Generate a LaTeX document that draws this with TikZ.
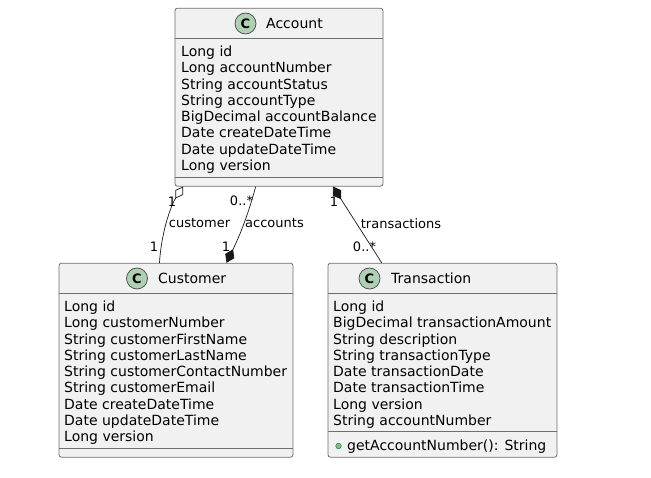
\documentclass[tikz,border=0pt]{standalone}
\usepackage{fontspec}
\setmainfont{DejaVu Sans}
\usetikzlibrary{arrows.meta,calc}

\definecolor{boxFill}{HTML}{F1F1F1}
\definecolor{boxLine}{HTML}{6E6E6E}
\definecolor{linkLine}{HTML}{181818}
\definecolor{markFill}{HTML}{ADD1B2}
\definecolor{dotFill}{HTML}{84BE84}
\definecolor{dotLine}{HTML}{038048}

\newcommand{\headOff}{31}
\newcommand{\acctFoot}{170}
\newcommand{\custFoot}{186}
\newcommand{\tranFoot}{169}

\tikzset{
  classbox/.style={draw=boxLine, fill=boxFill, line width=0.8pt, rounded corners=2.5pt, inner sep=0pt, anchor=north west},
  divline/.style={draw=boxLine, line width=0.8pt},
  classmark/.style={circle, draw=linkLine!80, fill=markFill, line width=0.7pt, minimum size=21pt, inner sep=0pt, font=\fontsize{13}{14}\selectfont\bfseries},
  classname/.style={inner sep=0pt, anchor=base west, font=\fontsize{14}{16}\selectfont},
  members/.style={inner sep=0pt, anchor=north west, align=left, font=\fontsize{14}{16.3}\selectfont},
  assoc/.style={draw=linkLine, line width=0.7pt},
  mult/.style={inner sep=0pt, font=\fontsize{13}{15}\selectfont, text=black},
}

\begin{document}
\begin{tikzpicture}[x=1pt, y=-1pt]
  \useasboundingbox (0,0) rectangle (651,478);

  % Account:
  \node[classbox, minimum width=208pt, minimum height=178pt] (Account) at (174.6,7.8) {};
  \draw[divline] ($(Account.north west)+(0,\headOff)$) -- ($(Account.north east)+(0,\headOff)$);
  \draw[divline] ($(Account.north west)+(0,\acctFoot)$) -- ($(Account.north east)+(0,\acctFoot)$);
  \node[classmark] (acctMark) at (245.5,23.5) {C};
  \node[classname] (acctName) at (266,28.5) {Account};
  \node[members] (acctMembers) at (181,45.6) {Long id\\Long accountNumber\\String accountStatus\\String accountType\\BigDecimal accountBalance\\Date createDateTime\\Date updateDateTime\\Long version};

  % Customer:
  \node[classbox, minimum width=234pt, minimum height=194pt] (Customer) at (58.6,262.8) {};
  \draw[divline] ($(Customer.north west)+(0,\headOff)$) -- ($(Customer.north east)+(0,\headOff)$);
  \draw[divline] ($(Customer.north west)+(0,\custFoot)$) -- ($(Customer.north east)+(0,\custFoot)$);
  \node[classmark] (custMark) at (137,278.5) {C};
  \node[classname] (custName) at (158,283.5) {Customer};
  \node[members] (custMembers) at (64,300.6) {Long id\\Long customerNumber\\String customerFirstName\\String customerLastName\\String customerContactNumber\\String customerEmail\\Date createDateTime\\Date updateDateTime\\Long version};

  % Transaction:
  \node[classbox, minimum width=229pt, minimum height=194pt] (Transaction) at (327.6,262.8) {};
  \draw[divline] ($(Transaction.north west)+(0,\headOff)$) -- ($(Transaction.north east)+(0,\headOff)$);
  \draw[divline] ($(Transaction.north west)+(0,\tranFoot)$) -- ($(Transaction.north east)+(0,\tranFoot)$);
  \node[classmark] (tranMark) at (369.5,278.5) {C};
  \node[classname] (tranName) at (391,283.5) {Transaction};
  \node[members] (tranMembers) at (333,300.6) {Long id\\BigDecimal transactionAmount\\String description\\String transactionType\\Date transactionDate\\Date transactionTime\\Long version\\String accountNumber};
  \node[circle, draw=dotLine, fill=dotFill, line width=0.5pt, minimum size=5.5pt, inner sep=0pt] (tranDot) at (338.5,446) {};
  \node[classname] (tranMethod) at (347,450.5) {getAccountNumber(): String};

  % Connector ends:
  \coordinate (acctCust) at (Account.south west -| 183,0);
  \coordinate (acctAcc) at (Account.south west -| 255.7,0);
  \coordinate (acctTran) at (Account.south west -| 333,0);
  \coordinate (custTop) at (Customer.north west -| 159.5,0);
  \coordinate (custAcc) at (Customer.north west -| 226.5,0);
  \coordinate (tranTop) at (Transaction.north west -| 381.7,0);

  % Connectors:
  \draw[assoc, {Diamond[open, fill=white, length=14pt, width=9pt]}-] (acctCust) .. controls (170,207) and (161,235) .. (custTop);
  \draw[assoc, -{Diamond[fill=linkLine, length=15pt, width=10pt]}] (acctAcc) .. controls (248,215) and (240,235) .. (custAcc);
  \draw[assoc, {Diamond[fill=linkLine, length=15pt, width=10pt]}-] (acctTran) -- (tranTop);

  % Labels:
  \node[mult] (custRole) at (199.5,223.5) {customer};
  \node[mult] (accRole) at (274.5,223.5) {accounts};
  \node[mult] (tranRole) at (401,223.5) {transactions};
  \node[mult] (custOne) at (172,201.5) {1};
  \node[mult] (accMany) at (241.5,200.5) {0..*};
  \node[mult] (tranOne) at (334,201.5) {1};
  \node[mult] (custLow) at (154,247) {1};
  \node[mult] (accOne) at (226,247) {1};
  \node[mult] (tranMany) at (364.5,247) {0..*};
\end{tikzpicture}
\end{document}
